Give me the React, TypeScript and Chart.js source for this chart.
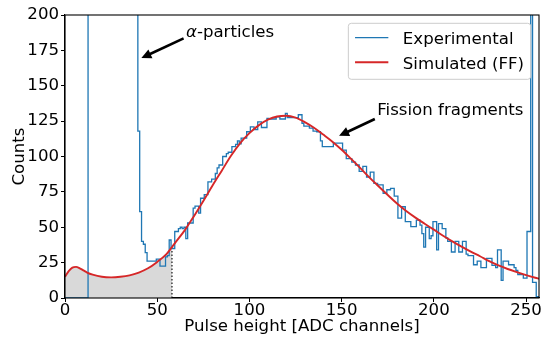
import React, { useEffect, useRef } from 'react';
import { Chart, registerables } from 'chart.js';

Chart.register(...registerables);

const FONT_FAMILY = '"DejaVu Sans", "Liberation Sans", sans-serif';
const FONT_SIZE = 16.6;

// Axis ranges and ticks
const xMin = 0;
const xMax = 257;
const xStep = 50;
const yMin = 0;
const yMax = 200;
const yStep = 25;
const xTitle = 'Pulse height [ADC channels]';
const yTitle = 'Counts';

// Experimental histogram: counts per ADC channel 0..257 (channels 13-39 and 253 are off-scale)
const expCounts: number[] = [
  0, 0, 0, 0, 0, 0, 0, 0, 0, 0,
  0, 0, 0, 400, 400, 400, 400, 400, 400, 400,
  400, 400, 400, 400, 400, 400, 400, 400, 400, 400,
  400, 400, 400, 400, 400, 400, 400, 400, 400, 400,
  118, 61, 40, 38, 32, 26, 26, 26, 26, 26,
  27.5, 27.5, 22.5, 22.5, 22.5, 29, 30, 41, 35, 35,
  47, 47, 49, 50, 49, 50, 42, 53, 53, 53,
  63.5, 65, 65, 60, 70.5, 70.5, 73, 73, 82, 82,
  84, 84, 88, 92, 94, 94, 100, 100, 102, 103,
  103, 107, 107, 108.5, 111, 109, 113, 113, 113, 117.5,
  117.5, 121, 121, 119, 119, 124.5, 124.5, 120.5, 120.5, 120.5,
  127, 126.5, 126.5, 126.5, 126.5, 128, 128, 126.5, 126.5, 126.5,
  130.5, 127.5, 127.5, 127.5, 127.5, 127.5, 127.5, 129.5, 129.5, 123.5,
  121.5, 121.5, 121.5, 120, 120, 118, 118, 117.5, 117.5, 111,
  107, 107, 107, 107, 107, 107, 109.5, 109.5, 109.5, 109.5,
  109.5, 104.5, 104.5, 98.5, 98.5, 98.5, 96, 96, 94, 94,
  89.5, 89.5, 93, 93, 85.5, 85.5, 89, 89, 81, 81,
  80, 80, 80, 74, 74, 76.5, 76.5, 77.5, 77.5, 72,
  72, 56.5, 56.5, 64.5, 64.5, 54, 54, 54, 50.5, 50.5,
  50.5, 55, 55, 51.5, 45.5, 36, 50, 50, 42, 44,
  54, 54, 34, 52.5, 52.5, 49, 49, 42.5, 40, 40,
  32.5, 32.5, 40, 40, 32.5, 32.5, 40, 40, 31, 30,
  30, 30, 23.5, 23.5, 26, 26, 21.5, 21.5, 21.5, 28,
  28, 28, 23, 23, 21.5, 34, 34, 12.5, 26, 26,
  26, 23.5, 23.5, 23.5, 21.5, 19.5, 16.5, 16.5, 16.5, 14,
  14, 47, 47, 400, 11, 11, 1, 1,
];

// Simulated fission-fragment spectrum
const simChannels: number[] = [
  0, 2, 4, 6, 8, 10, 12, 15, 20, 25, 30, 35, 40, 45, 50, 55, 58,
  60, 65, 70, 75, 80, 85, 90, 95, 100, 105, 110, 115, 120, 125, 130, 135, 140, 145, 150,
  155, 160, 165, 170, 175, 180, 185, 190, 195, 200, 205, 210, 215, 220, 225, 230, 235,
  240, 245, 250, 255, 257,
];
const simCounts: number[] = [
  15, 19, 21.5, 22, 21, 19.5, 18, 16.5, 15, 14.6, 15, 16, 18, 21, 25.5, 31, 36,
  39.5, 48, 58, 68.5, 79.5, 90, 100.5, 109.5, 116.5, 122, 126, 128.3, 128.8, 127.5, 124.3, 120.3, 115.5, 110.5, 104.8,
  98.5, 92, 85.3, 79, 72.8, 66.8, 61.5, 56.8, 52.5, 48.3, 44, 40, 36.3, 32.8, 29.5, 26, 23,
  20.5, 18.3, 16.2, 14.3, 13.6,
];

// Shaded region below the simulated curve (channels 0..cut)
const shadeEndChannel = 58;

const seriesLabels = ['Experimental', 'Simulated (FF)'];
const seriesColors = ['#1f77b4', '#d62728'];

// Annotations (data coordinates)
const alphaNote = { italic: 'α', text: '-particles', at: [65.6, 184.3], tail: [64.3, 183.5], tip: [41.4, 169.6] };
const fissionNote = { italic: '', text: 'Fission fragments', at: [169.3, 129.5], tail: [168.0, 126.5], tip: [148.6, 114.6] };
const notes = [alphaNote, fissionNote];

function font(size: number, style = '') {
  return `${style} ${size}px ${FONT_FAMILY}`.trim();
}

function drawArrow(ctx: CanvasRenderingContext2D, x0: number, y0: number, x1: number, y1: number) {
  const ang = Math.atan2(y1 - y0, x1 - x0);
  const headLen = 10;
  const headHalf = 4.8;
  const c = Math.cos(ang);
  const s = Math.sin(ang);
  const bx = x1 - headLen * c;
  const by = y1 - headLen * s;
  ctx.save();
  ctx.strokeStyle = '#000';
  ctx.fillStyle = '#000';
  ctx.lineWidth = 2.6;
  ctx.beginPath();
  ctx.moveTo(x0, y0);
  ctx.lineTo(bx + c, by + s);
  ctx.stroke();
  ctx.beginPath();
  ctx.moveTo(x1, y1);
  ctx.lineTo(bx + headHalf * s, by - headHalf * c);
  ctx.lineTo(bx - headHalf * s, by + headHalf * c);
  ctx.closePath();
  ctx.fill();
  ctx.restore();
}

const decorPlugin = {
  id: 'decor',
  afterDatasetsDraw(chart: any) {
    const { ctx, chartArea: a } = chart;
    ctx.save();
    ctx.strokeStyle = '#000';
    ctx.lineWidth = 1.1;
    ctx.strokeRect(a.left, a.top, a.right - a.left, a.bottom - a.top);
    ctx.restore();
  },
  afterDraw(chart: any) {
    const { ctx, chartArea: a } = chart;
    const xs = chart.scales.x;
    const ys = chart.scales.y;

    // annotations
    for (const n of notes) {
      drawArrow(
        ctx,
        xs.getPixelForValue(n.tail[0]), ys.getPixelForValue(n.tail[1]),
        xs.getPixelForValue(n.tip[0]), ys.getPixelForValue(n.tip[1]),
      );
      let tx = xs.getPixelForValue(n.at[0]);
      const ty = ys.getPixelForValue(n.at[1]);
      ctx.save();
      ctx.fillStyle = '#000';
      ctx.textBaseline = 'alphabetic';
      ctx.textAlign = 'left';
      if (n.italic) {
        ctx.font = font(FONT_SIZE, 'italic');
        ctx.fillText(n.italic, tx, ty);
        tx += ctx.measureText(n.italic).width;
      }
      ctx.font = font(FONT_SIZE);
      ctx.fillText(n.text, tx, ty);
      ctx.restore();
    }

    // legend
    const pad = 8.3;
    ctx.save();
    ctx.font = font(FONT_SIZE);
    const textW = Math.max(...seriesLabels.map((l) => ctx.measureText(l).width));
    const boxW = 6.7 + 33.3 + 14.5 + textW + 6.7;
    const boxH = 56;
    const bx = a.right - pad - boxW;
    const by = a.top + pad;
    const r = 3;
    ctx.beginPath();
    ctx.moveTo(bx + r, by);
    ctx.lineTo(bx + boxW - r, by);
    ctx.quadraticCurveTo(bx + boxW, by, bx + boxW, by + r);
    ctx.lineTo(bx + boxW, by + boxH - r);
    ctx.quadraticCurveTo(bx + boxW, by + boxH, bx + boxW - r, by + boxH);
    ctx.lineTo(bx + r, by + boxH);
    ctx.quadraticCurveTo(bx, by + boxH, bx, by + boxH - r);
    ctx.lineTo(bx, by + r);
    ctx.quadraticCurveTo(bx, by, bx + r, by);
    ctx.closePath();
    ctx.fillStyle = 'rgba(255,255,255,0.8)';
    ctx.fill();
    ctx.strokeStyle = '#cccccc';
    ctx.lineWidth = 1;
    ctx.stroke();
    seriesLabels.forEach((label, i) => {
      const ly = by + 14.4 + i * 24.6;
      ctx.beginPath();
      ctx.moveTo(bx + 6.7, ly);
      ctx.lineTo(bx + 40, ly);
      ctx.strokeStyle = seriesColors[i];
      ctx.lineWidth = i === 0 ? 1.3 : 1.9;
      ctx.stroke();
      ctx.fillStyle = '#000';
      ctx.textAlign = 'left';
      ctx.textBaseline = 'alphabetic';
      ctx.fillText(label, bx + 6.7 + 33.3 + 14.5, ly + 6.3);
    });
    ctx.restore();
  },
};

export default function App() {
  const canvasRef = useRef<HTMLCanvasElement | null>(null);

  useEffect(() => {
    const canvas = canvasRef.current;
    if (!canvas) return;

    const expPoints = expCounts.map((v, i) => ({ x: i, y: v }));
    const simPoints = simChannels.map((c, i) => ({ x: c, y: simCounts[i] }));
    const shadePoints = simPoints.filter((p) => p.x <= shadeEndChannel);
    const shadeTop = simCounts[simChannels.indexOf(shadeEndChannel)];
    const cutLine = [
      { x: shadeEndChannel, y: 0 },
      { x: shadeEndChannel, y: shadeTop },
    ];

    const tickFont = { family: FONT_FAMILY, size: FONT_SIZE, lineHeight: 1 };
    const titleFont = { family: FONT_FAMILY, size: FONT_SIZE, lineHeight: 1.2 };

    const chart = new Chart(canvas, {
      type: 'line',
      data: {
        datasets: [
          {
            label: seriesLabels[1],
            data: simPoints,
            borderColor: seriesColors[1],
            borderWidth: 1.9,
            pointRadius: 0,
            cubicInterpolationMode: 'monotone',
            fill: false,
            order: 0,
          },
          {
            label: seriesLabels[0],
            data: expPoints,
            borderColor: seriesColors[0],
            borderWidth: 1.3,
            pointRadius: 0,
            stepped: 'middle',
            fill: false,
            order: 1,
          },
          {
            label: 'cut',
            data: cutLine,
            borderColor: '#000',
            borderWidth: 1.1,
            borderDash: [1.5, 2],
            pointRadius: 0,
            fill: false,
            order: 2,
          },
          {
            label: 'shade',
            data: shadePoints,
            borderWidth: 0,
            borderColor: 'rgba(0,0,0,0)',
            backgroundColor: '#d9d9d9',
            pointRadius: 0,
            cubicInterpolationMode: 'monotone',
            fill: 'origin',
            order: 3,
          },
        ],
      } as any,
      options: {
        animation: false,
        responsive: false,
        devicePixelRatio: 1,
        parsing: false as any,
        layout: { padding: { left: 0, right: 2, top: 15, bottom: 0 } },
        plugins: {
          legend: { display: false },
          tooltip: { enabled: false },
        },
        scales: {
          x: {
            type: 'linear',
            min: xMin,
            max: xMax,
            afterFit: (s: any) => {
              s.height = 43;
              s.paddingLeft = 0;
              s.paddingRight = 0;
            },
            ticks: {
              stepSize: xStep,
              includeBounds: false,
              color: '#000',
              font: tickFont,
              padding: 0,
              maxRotation: 0,
            },
            grid: {
              display: true,
              drawOnChartArea: false,
              drawTicks: true,
              tickLength: 4,
              tickColor: '#000',
              tickWidth: 1,
            },
            border: { display: true, color: '#000', width: 1.1 },
            title: {
              display: true,
              text: xTitle,
              color: '#000',
              font: titleFont,
              padding: { top: 0, bottom: 4 },
            },
          },
          y: {
            type: 'linear',
            min: yMin,
            max: yMax,
            afterFit: (s: any) => {
              s.width = 65;
            },
            ticks: {
              stepSize: yStep,
              includeBounds: false,
              color: '#000',
              font: tickFont,
              padding: 2,
            },
            grid: {
              display: true,
              drawOnChartArea: false,
              drawTicks: true,
              tickLength: 4,
              tickColor: '#000',
              tickWidth: 1,
            },
            border: { display: true, color: '#000', width: 1.1 },
            title: {
              display: true,
              text: yTitle,
              color: '#000',
              font: titleFont,
              padding: { top: 9.3, bottom: 0 },
            },
          },
        },
      } as any,
      plugins: [decorPlugin],
    });

    return () => chart.destroy();
  }, []);

  return (
    <div style={{ position: 'absolute', left: 0, top: 0, width: 541, height: 341, background: '#fff' }}>
      <canvas ref={canvasRef} width={541} height={341} style={{ display: 'block', width: 541, height: 341 }} />
    </div>
  );
}
